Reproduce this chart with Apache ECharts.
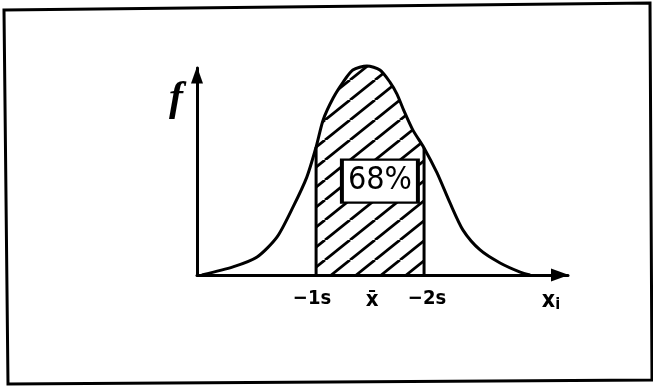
<!DOCTYPE html>
<html>
<head>
<meta charset="utf-8">
<script src="https://cdn.jsdelivr.net/npm/echarts@6/dist/echarts.min.js"></script>
<style>
  html, body { margin: 0; padding: 0; background: #fff; }
  #chart { width: 653px; height: 386px; }
</style>
</head>
<body>
<div id="chart"></div>
<script>
// Sketched frequency curve (x in axis units 0..100, f in 0..100)
const curveX = [1.3, 9.7, 16.2, 21.6, 25.9, 29.6, 32.1, 34.0, 36.7, 39.4, 42.0, 45.8, 49.3, 52.0, 53.9, 55.7, 58.2, 61.2, 64.7, 68.2, 71.7, 76.3, 81.7, 87.1, 89.8];
const curveF = [0, 3.9, 8.7, 18.4, 32.9, 47.3, 61.8, 74.9, 85.5, 93.2, 99.0, 101.0, 99.0, 93.2, 87.4, 79.7, 70.0, 61.4, 49.3, 34.8, 21.7, 12.1, 5.8, 1.4, 0];

// Shaded band limits
const shadeFrom = 32.1;
const shadeTo = 61.2;

// Share label
const shareText = '68%';
const sharePos = [49.3, 45.4];

// Axis labels
const xLabelValues = [31.0, 47.2, 62.0, 95.4];
const xLabelTexts = ['\u22121s', '{m|x\u0304}', '\u22122s', '{x|x}{i|i}'];
const yLabelValues = [85];
const yLabelTexts = ['f'];

const curve = curveX.map((x, i) => [x, curveF[i]]);
const band = curve.filter(p => p[0] >= shadeFrom && p[0] <= shadeTo);
const leftEdge = [[shadeFrom, 0], band[0]];
const rightEdge = [[shadeTo, 0], band[band.length - 1]];

// Diagonal hatch tile
const tile = document.createElement('canvas');
tile.width = 25; tile.height = 20;
(function () {
  const c = tile.getContext('2d');
  c.strokeStyle = '#000';
  c.lineWidth = 2.8;
  [-25, 0, 25].forEach(off => {
    c.beginPath();
    c.moveTo(off, 20);
    c.lineTo(off + 25, 0);
    c.stroke();
  });
})();

function labelFor(values, texts, v) {
  let best = 0;
  values.forEach((x, i) => { if (Math.abs(x - v) < Math.abs(values[best] - v)) best = i; });
  return texts[best];
}

const handFont = "'DejaVu Sans Condensed', 'Liberation Sans Narrow', 'DejaVu Sans', sans-serif";

const chart = echarts.init(document.getElementById('chart'), null, { renderer: 'canvas' });
chart.setOption({
  animation: false,
  backgroundColor: '#fff',
  grid: { left: 197, right: 85, top: 68, bottom: 111 },
  xAxis: {
    type: 'value', min: 0, max: 100,
    splitLine: { show: false },
    axisTick: { show: false },
    axisLine: {
      show: true, onZero: false,
      lineStyle: { color: '#000', width: 3 },
      symbol: ['none', 'triangle'], symbolSize: [13, 18], symbolOffset: [0, -8]
    },
    axisLabel: {
      customValues: xLabelValues,
      margin: 14,
      color: '#000',
      fontFamily: handFont,
      fontWeight: 'bold',
      fontSize: 20,
      formatter: v => labelFor(xLabelValues, xLabelTexts, v),
      rich: {
        m: { fontFamily: handFont, fontWeight: 'bold', fontSize: 22, color: '#000' },
        x: { fontFamily: handFont, fontWeight: 'bold', fontSize: 23, color: '#000' },
        i: { fontFamily: handFont, fontWeight: 'bold', fontSize: 16, color: '#000', padding: [8, 0, 0, 0] }
      }
    }
  },
  yAxis: {
    type: 'value', min: 0, max: 100,
    splitLine: { show: false },
    axisTick: { show: false },
    axisLine: {
      show: true, onZero: false,
      lineStyle: { color: '#000', width: 3 },
      symbol: ['none', 'triangle'], symbolSize: [12, 17], symbolOffset: [0, -7]
    },
    axisLabel: {
      customValues: yLabelValues,
      margin: 14,
      color: '#000',
      fontFamily: "'Liberation Serif', 'DejaVu Serif', serif",
      fontStyle: 'italic',
      fontWeight: 'bold',
      fontSize: 42,
      formatter: v => labelFor(yLabelValues, yLabelTexts, v)
    }
  },
  graphic: [{
    type: 'polygon',
    shape: { points: [[4, 10], [650, 3], [652, 380], [8, 384]] },
    style: { fill: 'none', stroke: '#000', lineWidth: 3 },
    silent: true, z: 0
  }],
  series: [
    {
      type: 'line', data: band, smooth: 0.25, clip: false,
      symbol: 'none', lineStyle: { width: 0 },
      areaStyle: { color: { image: tile, repeat: 'repeat' }, opacity: 1 },
      z: 2
    },
    {
      type: 'line', data: curve, smooth: 0.25, clip: false,
      symbol: 'none', lineStyle: { color: '#000', width: 3 },
      z: 3
    },
    {
      type: 'line', data: leftEdge, clip: false,
      symbol: 'none', lineStyle: { color: '#000', width: 3 }, z: 3
    },
    {
      type: 'line', data: rightEdge, clip: false,
      symbol: 'none', lineStyle: { color: '#000', width: 3 }, z: 3
    },
    {
      type: 'scatter', data: [sharePos], clip: false,
      symbol: 'rect', symbolSize: [76, 43],
      itemStyle: { color: '#fff', borderColor: '#000', borderWidth: 3, opacity: 1 },
      label: {
        show: true, position: 'inside',
        formatter: shareText,
        color: '#000', fontFamily: handFont, fontSize: 32
      },
      z: 4
    }
  ]
});
</script>
</body>
</html>
